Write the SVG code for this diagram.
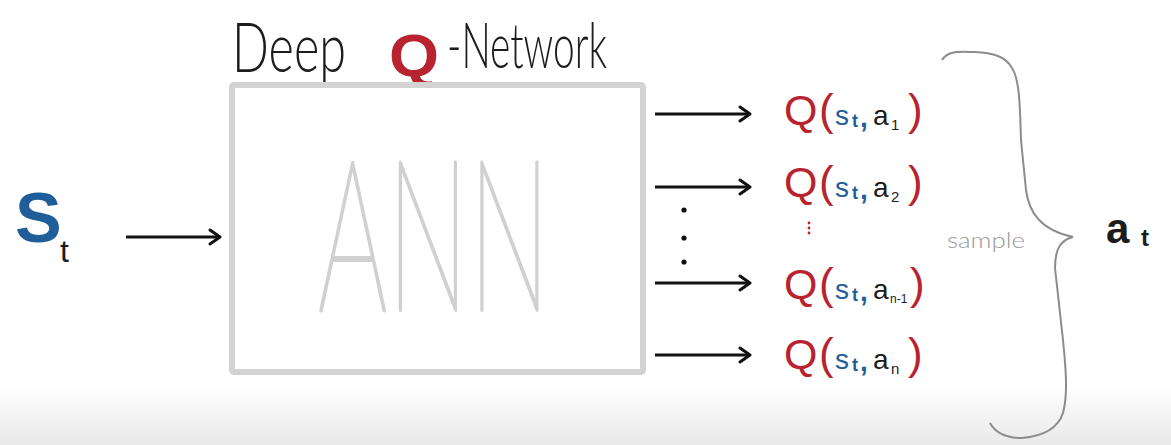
<svg xmlns="http://www.w3.org/2000/svg" width="1171" height="445" viewBox="0 0 1171 445">
<style>
.red{fill:#b8232f}
.blue{fill:#1f5e98}
.dark{fill:#1c1c1c}
.f{font-family:"Liberation Sans",Arial,sans-serif}
.thin{font-family:Lato,Inter,Roboto,sans-serif;font-weight:300}
.arrow{stroke:#111;stroke-width:3;fill:none;marker-end:url(#ah)}
</style>
<defs>
<marker id="ah" markerWidth="14" markerHeight="18" refX="12" refY="9" orient="auto" markerUnits="userSpaceOnUse">
<path d="M2,2 L12,9 L2,16" fill="none" stroke="#111" stroke-width="3" stroke-linecap="round" stroke-linejoin="round"/>
</marker>
<linearGradient id="bg" x1="0" y1="0" x2="0" y2="1">
<stop offset="0" stop-color="#ffffff"/>
<stop offset="1" stop-color="#e9e9e9"/>
</linearGradient>
<g id="qrow">
<text class="f red" x="784" y="0" font-size="43">Q</text>
<text class="f red" x="819" y="0" font-size="44">(</text>
<text class="f blue" x="835" y="0" font-size="28">s</text>
<text class="f blue" x="852" y="2" font-size="18" font-weight="bold">t</text>
<text class="f blue" x="860" y="2" font-size="28" font-weight="bold">,</text>
</g>
</defs>
<rect x="0" y="0" width="1171" height="445" fill="#ffffff"/>
<rect x="0" y="385" width="1171" height="60" fill="url(#bg)"/>

<g id="title">
<text class="thin dark" x="232" y="72" font-size="68" textLength="114" lengthAdjust="spacingAndGlyphs">Deep</text>
<text class="f red" x="389" y="76" font-size="60" font-weight="bold" textLength="50" lengthAdjust="spacingAndGlyphs">Q</text>
<text class="thin dark" x="447" y="68" font-size="64" textLength="160" lengthAdjust="spacingAndGlyphs">-Network</text>
</g>

<g id="ann">
<rect x="232" y="85" width="411" height="287" fill="#ffffff" stroke="#d3d3d3" stroke-width="6" rx="2"/>
<text x="318" y="310" font-family="Lato, Inter, Roboto, sans-serif" font-weight="100" font-size="210" fill="#d0d0d0" stroke="#d0d0d0" stroke-width="4" stroke-linejoin="round" textLength="232" lengthAdjust="spacingAndGlyphs">ANN</text>
</g>

<g id="state">
<text class="f blue" x="15" y="242" font-size="70" font-weight="bold">S</text>
<text class="f dark" x="60" y="262" font-size="32">t</text>
</g>

<g id="connectors">
<line class="arrow" x1="126" y1="237" x2="220" y2="237"/>
<line class="arrow" x1="655" y1="114" x2="750" y2="114"/>
<line class="arrow" x1="655" y1="187" x2="750" y2="187"/>
<line class="arrow" x1="655" y1="283" x2="750" y2="283"/>
<line class="arrow" x1="655" y1="355" x2="750" y2="355"/>
<circle cx="684" cy="210" r="2.6" fill="#111"/>
<circle cx="684" cy="238" r="2.6" fill="#111"/>
<circle cx="684" cy="262" r="2.6" fill="#111"/>
</g>

<g id="q1" transform="translate(0,125)">
<use href="#qrow"/>
<text class="f dark" x="873" y="0" font-size="28">a</text>
<text class="f dark" x="891" y="5" font-size="15">1</text>
<text class="f red" x="908" y="0" font-size="44">)</text>
</g>
<g id="q2" transform="translate(0,197)">
<use href="#qrow"/>
<text class="f dark" x="873" y="0" font-size="28">a</text>
<text class="f dark" x="891" y="5" font-size="15">2</text>
<text class="f red" x="908" y="0" font-size="44">)</text>
</g>
<g id="vdots">
<circle cx="809" cy="223" r="1.4" fill="#b8232f"/>
<circle cx="809" cy="228" r="1.4" fill="#b8232f"/>
<circle cx="809" cy="233" r="1.4" fill="#b8232f"/>
</g>
<g id="q3" transform="translate(0,299)">
<use href="#qrow"/>
<text class="f dark" x="873" y="0" font-size="28">a</text>
<text class="f dark" x="890" y="4" font-size="12">n-1</text>
<text class="f red" x="910" y="0" font-size="44">)</text>
</g>
<g id="q4" transform="translate(0,369)">
<use href="#qrow"/>
<text class="f dark" x="873" y="0" font-size="28">a</text>
<text class="f dark" x="891" y="5" font-size="15">n</text>
<text class="f red" x="908" y="0" font-size="44">)</text>
</g>

<g id="brace">
<path d="M942,60 C948,50 960,52 975,52 C990,53 1005,55 1012,68 C1020,80 1020,110 1021,140 L1026,190 C1029,212 1040,230 1073,237 C1060,240 1055,250 1055,268 L1063,340 C1066,370 1068,395 1063,413 C1058,428 1045,436 1022,438 C1005,438 995,432 990,423" fill="none" stroke="#8c8c8c" stroke-width="2"/>
<text class="thin" x="947" y="248" font-size="22" fill="#9a9a9a" textLength="78" lengthAdjust="spacingAndGlyphs">sample</text>
</g>

<g id="action">
<text class="f dark" x="1106" y="243" font-size="42" font-weight="bold">a</text>
<text class="f dark" x="1141" y="246" font-size="24" font-weight="bold">t</text>
</g>
</svg>
